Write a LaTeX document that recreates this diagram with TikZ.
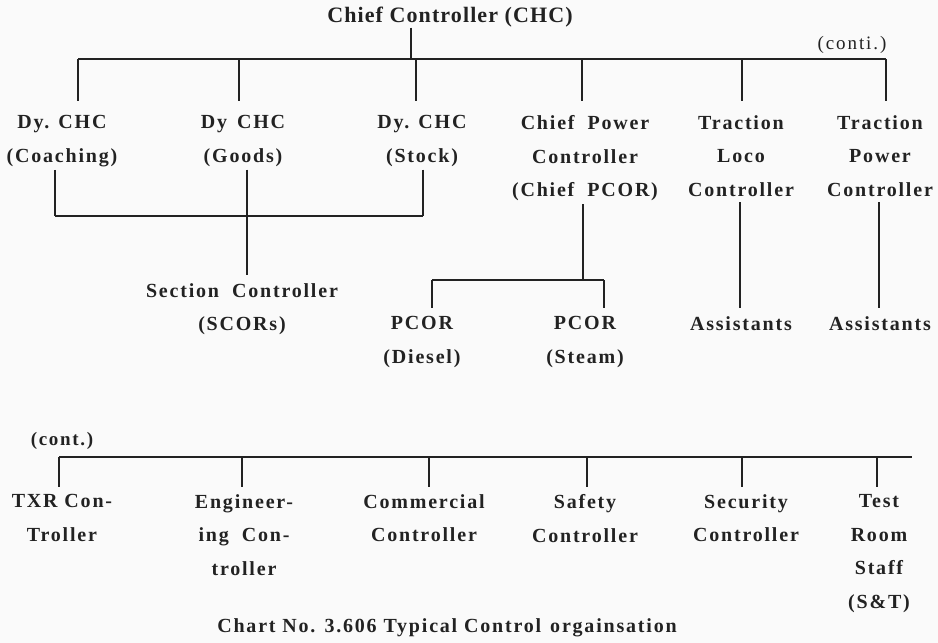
\documentclass[tikz,border=0pt]{standalone}
\usepackage{fontspec}
\usepackage{tikz}
\usetikzlibrary{positioning}
\newfontfamily\chartfont{Liberation Serif}[LetterSpace=9]
\newfontfamily\headfont{Liberation Serif}[LetterSpace=5]
\newfontfamily\notefont{Liberation Serif}[LetterSpace=10]
\definecolor{ink}{HTML}{222222}
\newcommand{\gap}{\hspace{13pt}}

\begin{document}
\begin{tikzpicture}[x=1pt, y=-1pt,
            post/.style={anchor=north, align=center, inner sep=0pt, text=ink, font=\chartfont\bfseries\fontsize{20}{33.8}\selectfont},
            head/.style={anchor=north, inner sep=0pt, text=ink, font=\headfont\bfseries\fontsize{22}{26}\selectfont},
            note/.style={anchor=north, inner sep=0pt, text=ink, font=\notefont\fontsize{19}{22}\selectfont},
            edge/.style={draw=ink, line width=2.8pt}
        ]

        % Hintergrund
        \fill[gray!4] (0,0) rectangle (938,643);
        \useasboundingbox (0,0) rectangle (938,643);

        % Knoten
        \node[head] (chc) at (450,7) {Chief Controller (CHC)};
        \node[note] (conti) at (852,36) {(conti.)};

        \node[post] (dyc) at (62,115) {Dy. CHC\\(Coaching)};
        \node[post] (dyg) at (243,115) {Dy\hspace{10pt}CHC\\(Goods)};
        \node[post] (dys) at (422,115) {Dy. CHC\\(Stock)};
        \node[post] (cpc) at (585,115) {Chief\gap Power\\Controller\\(Chief\gap PCOR)};
        \node[post] (tlc) at (741,115) {Traction\\Loco\\Controller};
        \node[post] (tpc) at (880,115) {Traction\\Power\\Controller};

        \node[post] (sec) at (242,283) {Section\gap Controller\\(SCORs)};
        \node[post] (pcd) at (422,316) {PCOR\\(Diesel)};
        \node[post] (pcs) at (585,316) {PCOR\\(Steam)};
        \node[post] (asl) at (741,316) {Assistants};
        \node[post] (asp) at (880,316) {Assistants};

        \node[post, font=\chartfont\bfseries\fontsize{19}{22}\selectfont] (cont) at (62,432) {(cont.)};
        \node[post] (txr) at (62,494) {TXR Con-\\Troller};
        \node[post] (eng) at (244,494) {Engineer-\\ing\gap Con-\\troller};
        \node[post] (com) at (424,494) {Commercial\\Controller};
        \node[post] (saf) at (585,494) {Safety\\Controller};
        \node[post] (secu) at (746,494) {Security\\Controller};
        \node[post] (trs) at (879,494) {Test\\Room\\Staff\\(S\&T)};

        \node[post, font=\chartfont\bfseries\fontsize{20}{24}\selectfont] (cap) at (447,618) {Chart No. 3.606 Typical Control\hspace{9pt}orgainsation};

        % Sammelschienen
        \coordinate (top) at (411,59);
        \coordinate (dyb) at (247,216);
        \coordinate (pcb) at (583,280);
        \coordinate (low) at (59,457);

        % Kanten oben
        \draw[edge] (chc.south -| top) -- (top);
        \draw[edge] (78,59) -- (886,59);
        \foreach \x/\n in {78/dyc, 239/dyg, 416/dys, 582/cpc, 742/tlc, 886/tpc}
            \draw[edge] (\x,59) -- ([yshift=14pt]\x,0 |- \n.north);

        % Kanten Dy. CHC
        \foreach \x/\n in {55/dyc, 247/dyg, 423/dys}
            \draw[edge] ([yshift=-3pt]\x,0 |- \n.south) -- (\x,216);
        \draw[edge] (55,216) -- (423,216);
        \draw[edge] (dyb) -- ([yshift=8pt]dyb |- sec.north);

        % Kanten PCOR
        \draw[edge] ([yshift=-3pt]pcb |- cpc.south) -- (pcb);
        \draw[edge] (432,280) -- (604,280);
        \draw[edge] (432,280) -- ([yshift=8pt]432,0 |- pcd.north);
        \draw[edge] (604,280) -- ([yshift=8pt]604,0 |- pcs.north);

        % Kanten Traction
        \draw[edge] ([yshift=-5pt]740,0 |- tlc.south) -- ([yshift=8pt]740,0 |- asl.north);
        \draw[edge] ([yshift=-5pt]879,0 |- tpc.south) -- ([yshift=8pt]879,0 |- asp.north);

        % Kanten unten
        \draw[edge] (low) -- (912,457);
        \foreach \x/\n in {59/txr, 242/eng, 429/com, 587/saf, 742/secu, 877/trs}
            \draw[edge] (\x,457) -- ([yshift=7pt]\x,0 |- \n.north);

    \end{tikzpicture}
\end{document}
